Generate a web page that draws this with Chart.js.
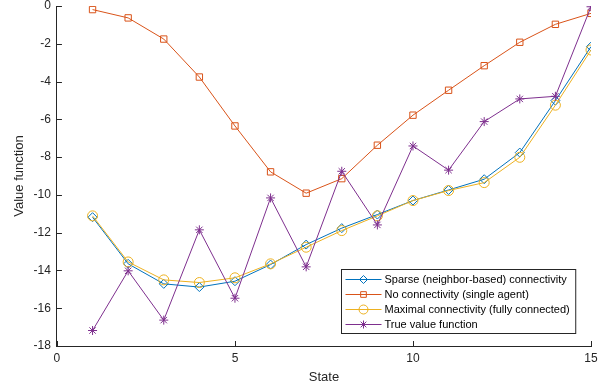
<!DOCTYPE html>
<html>
<head>
<meta charset="utf-8">
<script src="https://cdn.jsdelivr.net/npm/chart.js@4"></script>
<style>
  html, body { margin: 0; padding: 0; background: #fff; }
  #wrap { width: 615px; height: 389px; }
</style>
</head>
<body>
<div id="wrap"><canvas id="valueChart" width="615" height="389"></canvas></div>
<script>
// value function per state

const states = [1, 2, 3, 4, 5, 6, 7, 8, 9, 10, 11, 12, 13, 14, 15];
const sparseVals = [-11.18, -13.65, -14.71, -14.88, -14.57, -13.69, -12.63, -11.76, -11.04, -10.30, -9.74, -9.17, -7.76, -5.01, -2.15];
const singleVals = [-0.19, -0.63, -1.75, -3.76, -6.35, -8.78, -9.91, -9.14, -7.37, -5.78, -4.46, -3.16, -1.92, -0.97, -0.39];
const fullVals = [-11.11, -13.55, -14.50, -14.64, -14.39, -13.65, -12.77, -11.89, -11.11, -10.30, -9.77, -9.35, -8.01, -5.25, -2.33];
const trueVals = [-17.18, -14.02, -16.63, -11.85, -15.47, -10.16, -13.81, -8.75, -11.59, -7.41, -8.69, -6.12, -4.92, -4.78, -0.04];
const xTicks = [0, 5, 10, 15];
const yTicks = [0, -2, -4, -6, -8, -10, -12, -14, -16, -18];

const FONT = '"Liberation Sans", Arial, sans-serif';
const AX = '#262626';

function pts(vals) {
    return states.map((s, i) => ({ x: s, y: vals[i] }));
}

function series(label, vals, color, style, radius, order) {
    return {
        label: label,
        data: pts(vals),
        borderColor: color,
        backgroundColor: 'rgba(0,0,0,0)',
        borderWidth: 1,
        pointStyle: style,
        pointRadius: radius,
        pointBorderWidth: 1,
        pointBorderColor: color,
        pointBackgroundColor: 'rgba(0,0,0,0)',
        tension: 0,
        order: order
    };
}

// inward ticks + matlab-ish legend box
const matlabBits = {
    id: 'matlabBits',
    afterDraw(chart) {
        const ctx = chart.ctx;
        const a = chart.chartArea;
        const xs = chart.scales.x, ys = chart.scales.y;
        ctx.save();
        ctx.strokeStyle = AX;
        ctx.lineWidth = 1;
        ctx.beginPath();
        xTicks.forEach(t => {
            const px = Math.round(xs.getPixelForValue(t)) + 0.5;
            ctx.moveTo(px, a.bottom);
            ctx.lineTo(px, a.bottom - 5);
        });
        yTicks.forEach(t => {
            const py = Math.round(ys.getPixelForValue(t)) + 0.5;
            ctx.moveTo(a.left, py);
            ctx.lineTo(a.left + 5, py);
        });
        ctx.stroke();

        // legend
        ctx.font = '11px ' + FONT;
        const sets = chart.data.datasets;
        let tw = 0;
        sets.forEach(d => { tw = Math.max(tw, ctx.measureText(d.label).width); });
        const rowH = 15;
        const boxW = 43 + tw + 6;
        const boxH = rowH * sets.length + 4;
        const right = a.right - 16;
        const bottom = a.bottom - 13;
        const left = Math.round(right - boxW) + 0.5;
        const top = Math.round(bottom - boxH) + 0.5;
        ctx.fillStyle = '#fff';
        ctx.fillRect(left, top, boxW, boxH);
        ctx.strokeStyle = '#262626';
        ctx.strokeRect(left, top, boxW, boxH);
        sets.forEach((d, i) => {
            const cy = top + 10 + i * rowH;
            ctx.strokeStyle = d.borderColor;
            ctx.lineWidth = 1;
            ctx.beginPath();
            ctx.moveTo(left + 4, cy);
            ctx.lineTo(left + 40, cy);
            ctx.stroke();
            ctx.fillStyle = 'rgba(0,0,0,0)';
            Chart.helpers.drawPoint(ctx, {
                pointStyle: d.pointStyle,
                radius: d.pointRadius - 0.5,
                rotation: 0,
                borderWidth: 1
            }, left + 22, cy);
            ctx.fillStyle = '#000';
            ctx.textBaseline = 'middle';
            ctx.textAlign = 'left';
            ctx.fillText(d.label, left + 43, cy + 0.5);
        });
        ctx.restore();
    }
};

const valueChart = new Chart(document.getElementById('valueChart'), {
    type: 'line',
    data: {
        datasets: [
            series('Sparse (neighbor-based) connectivity', sparseVals, '#0072BD', 'rectRot', 4.5, 3),
            series('No connectivity (single agent)', singleVals, '#D95319', 'rect', 4.5, 2),
            series('Maximal connectivity (fully connected)', fullVals, '#EDB120', 'circle', 5, 1),
            series('True value function', trueVals, '#7E2F8E', 'star', 4.5, 0)
        ]
    },
    plugins: [matlabBits],
    options: {
        responsive: false,
        animation: false,
        layout: { padding: { top: 6, right: 24, left: 12, bottom: 4 } },
        plugins: {
            legend: { display: false },
            tooltip: { enabled: false }
        },
        scales: {
            x: {
                type: 'linear',
                min: 0,
                max: 15,
                afterBuildTicks: s => { s.ticks = xTicks.map(v => ({ value: v })); },
                afterFit: s => { s.height = 39; },
                grid: { drawOnChartArea: false, drawTicks: false, color: AX },
                border: { color: AX, width: 1 },
                ticks: { color: AX, font: { family: FONT, size: 12 }, padding: 5, maxRotation: 0 },
                title: { display: true, text: 'State', color: AX, font: { family: FONT, size: 13 }, padding: { top: 0, bottom: 0 } }
            },
            y: {
                type: 'linear',
                min: -18,
                max: 0,
                afterBuildTicks: s => { s.ticks = yTicks.map(v => ({ value: v })); },
                afterFit: s => { s.paddingTop = 0; s.paddingBottom = 0; },
                grid: { drawOnChartArea: false, drawTicks: false, color: AX },
                border: { color: AX, width: 1 },
                ticks: { color: AX, font: { family: FONT, size: 12 }, padding: 6 },
                title: { display: true, text: 'Value function', color: AX, font: { family: FONT, size: 13 }, padding: { top: 0, bottom: 0 } }
            }
        }
    }
});
</script>
</body>
</html>
